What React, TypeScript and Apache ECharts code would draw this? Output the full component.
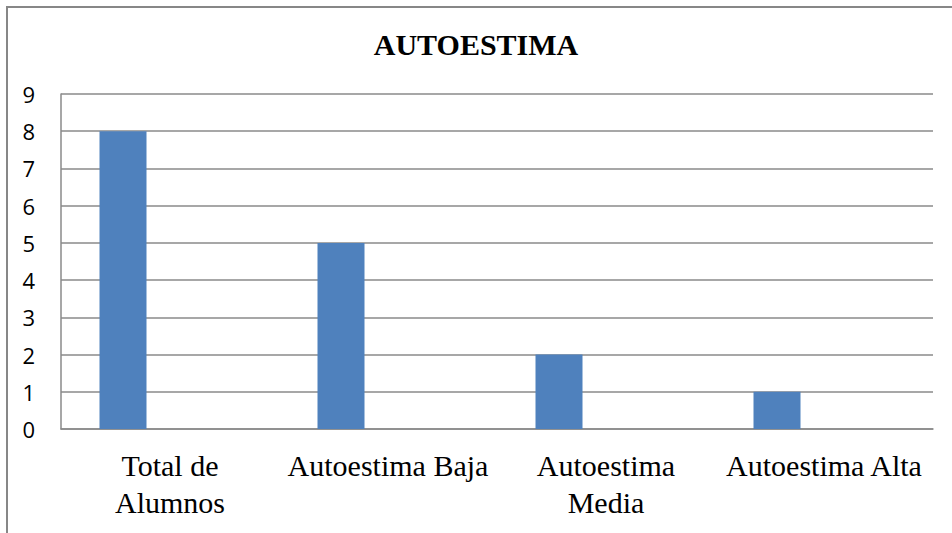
import React, { useEffect, useRef } from "react";
import * as echarts from "echarts";

const title = "AUTOESTIMA";
const categories = ["Total de Alumnos", "Autoestima Baja", "Autoestima Media", "Autoestima Alta"];
const categoryLabels = ["Total de\nAlumnos", "Autoestima Baja", "Autoestima\nMedia", "Autoestima Alta"];
const values = [8, 5, 2, 1];
const yTicks = [0, 1, 2, 3, 4, 5, 6, 7, 8, 9];

export default function App() {
  const ref = useRef<HTMLDivElement>(null);
  useEffect(() => {
    if (!ref.current) return;
    const chart = echarts.init(ref.current, null, { renderer: "svg" });
    const gridColor = "#8a8a8a";
    chart.setOption({
      animation: false,
      backgroundColor: "#ffffff",
      title: {
        text: title,
        left: "center",
        top: 24,
        textStyle: {
          fontFamily: "Liberation Serif",
          fontWeight: "bold",
          fontSize: 30,
          color: "#000000",
        },
      },
      graphic: [
        {
          type: "rect",
          shape: { x: 7, y: 7, width: 1000, height: 600 },
          style: { fill: "none", stroke: "#878787", lineWidth: 2 },
          silent: true,
        },
      ],
      grid: { left: 61, right: 19, top: 94, bottom: 104, containLabel: false },
      xAxis: {
        type: "category",
        data: categories,
        axisLine: { show: true, lineStyle: { color: gridColor, width: 1.5 } },
        axisTick: { show: false },
        axisLabel: {
          interval: 0,
          margin: 18,
          fontFamily: "Liberation Serif",
          fontSize: 30,
          lineHeight: 37,
          color: "#000000",
          formatter: (v: string) => categoryLabels[categories.indexOf(v)] ?? v,
        },
      },
      yAxis: {
        type: "value",
        min: yTicks[0],
        max: yTicks[yTicks.length - 1],
        interval: 1,
        axisLine: { show: true, lineStyle: { color: gridColor, width: 1.5 } },
        axisTick: { show: false },
        splitLine: { show: true, lineStyle: { color: gridColor, width: 1.5 } },
        axisLabel: {
          margin: 26,
          fontFamily: "Open Sans",
          fontSize: 22,
          color: "#000000",
        },
      },
      series: [
        {
          type: "bar",
          data: values,
          barWidth: 47,
          barGap: "0%",
          itemStyle: { color: "#4F81BD" },
        },
        { type: "bar", data: [], barWidth: 47, barGap: "0%" },
        { type: "bar", data: [], barWidth: 47, barGap: "0%" },
      ],
    });
    return () => chart.dispose();
  }, []);
  return (
    <div style={{ position: "fixed", left: 0, top: 0, width: 952, height: 533, background: "#fff" }}>
      <div ref={ref} style={{ width: 952, height: 533 }} />
    </div>
  );
}
